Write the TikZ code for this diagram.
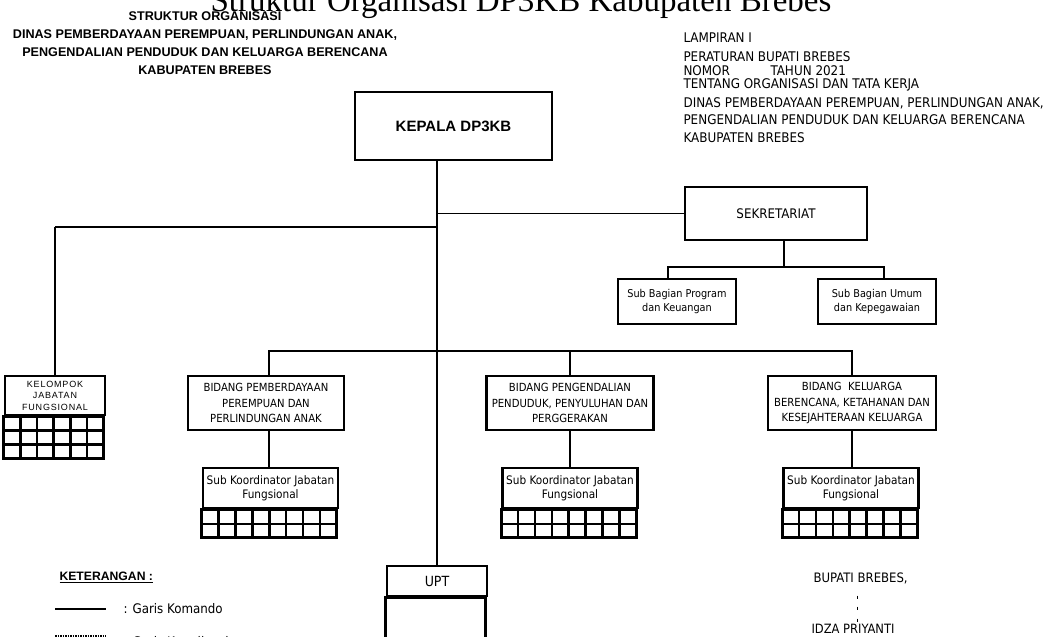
\documentclass[tikz,border=0pt]{standalone}
\usepackage{fontspec}
\setmainfont{Liberation Sans}
\newfontfamily\judulfont{Liberation Serif}
\newfontfamily\isifont{DejaVu Sans Condensed}

\begin{document}
\begin{tikzpicture}[x=1pt,y=-1pt,
  box/.style={draw,line width=2.6pt,align=center,inner sep=0pt,font=\isifont\fontsize{11.2}{15.5}\selectfont},
  subbox/.style={box,font=\isifont\fontsize{11.7}{14}\selectfont},
  komando/.style={line width=2.8pt},
  tipis/.style={line width=1.7pt}]
% Define page size
\useasboundingbox (0,0) rectangle (1047,637);

% Draw headings
\node[anchor=base,font=\judulfont\fontsize{33}{33}\selectfont] (judul) at (521,12) {Struktur Organisasi DP3KB Kabupaten Brebes};
\node[align=center,font=\bfseries\fontsize{12.6}{18}\selectfont] (judulkiri) at (205,43) {STRUKTUR ORGANISASI\\DINAS PEMBERDAYAAN PEREMPUAN, PERLINDUNGAN ANAK,\\PENGENDALIAN PENDUDUK DAN KELUARGA BERENCANA\\KABUPATEN BREBES};
\node[anchor=north west,align=left,font=\isifont\fontsize{13.3}{13.5}\selectfont] (lampiran) at (680,29) {LAMPIRAN I\\[6pt]PERATURAN BUPATI BREBES\\\makebox[87pt][l]{NOMOR}TAHUN 2021\\TENTANG ORGANISASI DAN TATA KERJA\\[5pt]DINAS PEMBERDAYAAN PEREMPUAN, PERLINDUNGAN ANAK,\\[4pt]PENGENDALIAN PENDUDUK DAN KELUARGA BERENCANA\\[4pt]KABUPATEN BREBES};

% Draw boxes
\node[box,font=\bfseries\fontsize{15}{16}\selectfont,minimum width=197pt,minimum height=68pt] (kepala) at (453.5,126) {KEPALA DP3KB};
\node[box,font=\isifont\fontsize{13.2}{12}\selectfont,minimum width=182pt,minimum height=53pt] (sekretariat) at (776,213.5) {SEKRETARIAT};
\node[subbox,font=\isifont\fontsize{10.8}{14}\selectfont,minimum width=118pt,minimum height=45pt] (subprogram) at (677,301.5) {Sub Bagian Program\\dan Keuangan};
\node[subbox,font=\isifont\fontsize{10.8}{14}\selectfont,minimum width=118pt,minimum height=45pt] (subumum) at (877,301.5) {Sub Bagian Umum\\dan Kepegawaian};
\node[box,font=\fontsize{9}{11.5}\selectfont\addfontfeature{LetterSpace=9},minimum width=100pt,minimum height=39pt] (kelompok) at (55,395.5) {KELOMPOK\\JABATAN\\FUNGSIONAL};
\node[box,minimum width=156pt,minimum height=54pt] (bidang1) at (266,403) {BIDANG PEMBERDAYAAN\\PEREMPUAN DAN\\PERLINDUNGAN ANAK};
\node[box,minimum width=167pt,minimum height=54pt] (bidang2) at (570,403) {BIDANG PENGENDALIAN\\PENDUDUK, PENYULUHAN DAN\\PERGGERAKAN};
\node[box,minimum width=168pt,minimum height=54pt] (bidang3) at (852,403) {BIDANG\ \ KELUARGA\\BERENCANA, KETAHANAN DAN\\KESEJAHTERAAN KELUARGA};
\node[subbox,minimum width=135pt,minimum height=40pt] (koord1) at (270.5,488) {Sub Koordinator Jabatan\\Fungsional};
\node[subbox,minimum width=135pt,minimum height=40pt] (koord2) at (570,488) {Sub Koordinator Jabatan\\Fungsional};
\node[subbox,minimum width=135pt,minimum height=40pt] (koord3) at (851,488) {Sub Koordinator Jabatan\\Fungsional};
\node[box,font=\isifont\fontsize{14}{14}\selectfont,minimum width=100pt,minimum height=30pt] (upt) at (437,581) {UPT};

% Draw grids under boxes
\draw[box] (kelompok.south west) rectangle ++(100,42);
\foreach \r in {1,2} \draw[box] (kelompok.south west) ++(0,{14*\r}) -- ++(100,0);
\foreach \c in {1,...,5} \draw[box] (kelompok.south west) ++({\c*100/6},0) -- ++(0,42);
\foreach \n in {koord1,koord2,koord3}{
  \draw[box] (\n.south west) rectangle ++(135,28);
  \draw[box] (\n.south west) ++(0,14.5) -- ++(135,0);
  \foreach \c in {1,...,7} \draw[box] (\n.south west) ++({\c*135/8},0) -- ++(0,28);
}
\draw[box] (upt.south west) rectangle ++(100,60);

% Draw command lines
\coordinate (simpulkiri) at (437,227);
\coordinate (bbar) at (437,351);
\coordinate (sbar) at (784,267);
\draw[komando] (kepala.south -| upt.north) -- (upt.north);
\draw[tipis] (upt.north |- sekretariat.west) -- (sekretariat.west);
\draw[tipis] (simpulkiri) -- (simpulkiri -| kelompok.north);
\draw[komando] (simpulkiri -| kelompok.north) -- (kelompok.north);
\draw[komando] ([xshift=3pt]bidang1.north) |- (bbar) -| (bidang3.north);
\draw[komando] (bidang2.north) -- (bidang2.north |- bbar);
\draw[komando] ([xshift=3pt]bidang1.south) -- ([xshift=3pt]bidang1.south |- koord1.north);
\foreach \i in {2,3} \draw[komando] (bidang\i.south) -- (bidang\i.south |- koord\i.north);
\draw[komando] (sekretariat.south -| sbar) -- (sbar);
\draw[komando] ([xshift=-9pt]subprogram.north) |- (sbar) -| ([xshift=7pt]subumum.north);

% Draw legend
\node[anchor=west,font=\bfseries\fontsize{12.2}{12}\selectfont] (keterangan) at (56,577) {\underline{KETERANGAN :}};
\coordinate (kom1) at (55,609);
\coordinate (kom2) at (106,609);
\draw[komando] (kom1) -- (kom2);
\node[anchor=west,font=\isifont\fontsize{13.2}{13}\selectfont] (lkomando) at (120,609) {: Garis Komando};
\coordinate (kor1) at (55,636);
\coordinate (kor2) at (106,636);
\draw[line width=2pt,dash pattern=on 1.5pt off 1pt] (kor1) -- (kor2);
\node[anchor=west,font=\isifont\fontsize{13.2}{13}\selectfont] (lkoordinasi) at (120,642) {: Garis Koordinasi};

% Draw signature
\node[anchor=west,font=\isifont\fontsize{13}{12}\selectfont] (bupati) at (810,578) {BUPATI BREBES,};
\foreach \yy in {597,608,620} \draw[line width=1pt] (857,\yy-1.5) -- (857,\yy+1.5);
\node[anchor=west,font=\isifont\fontsize{12.8}{12}\selectfont] (idza) at (808,629) {IDZA PRIYANTI};

\end{tikzpicture}
\end{document}
